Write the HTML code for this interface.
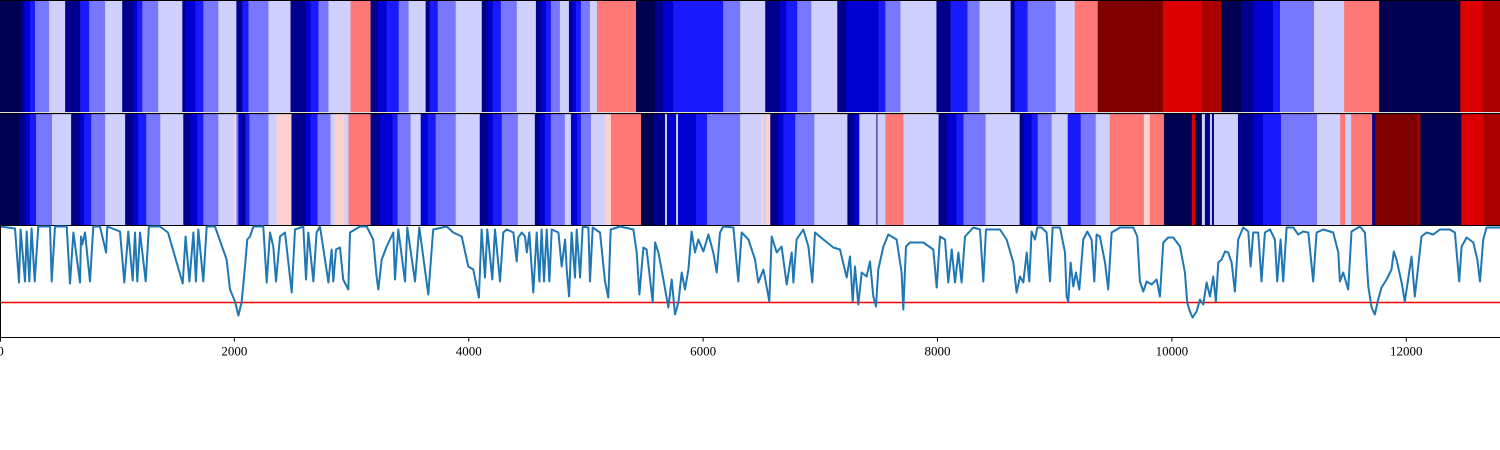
<!DOCTYPE html>
<html><head><meta charset="utf-8"><style>
html,body{margin:0;padding:0;background:#fff;}
svg{display:block;}
text{font-family:"Liberation Serif",serif;font-size:13px;fill:#000;}
</style></head><body>
<svg id="chart" width="1500" height="450" viewBox="0 0 1500 450" xmlns="http://www.w3.org/2000/svg">
<g id="top"></g>
<g id="mid"></g>
<g id="bot"></g>
</svg>
<script>
const xMax = 12800;
const levelColors = ["#000050","#00008c","#0000d0","#1a1aff","#7878ff","#d0d0ff","#ffd0d0","#ff7878","#dc0000","#aa0000","#7f0000"];
const topStarts = [0,179,205,256,299,419,556,684,761,897,1043,1137,1171,1214,1350,1556,1581,1667,1735,1863,2017,2068,2120,2291,2479,2607,2650,2718,2803,2991,3162,3222,3299,3402,3487,3632,3667,3735,3889,4111,4162,4205,4274,4410,4573,4615,4658,4701,4778,4855,4880,4915,4957,5034,5094,5427,5590,5658,5744,6171,6316,6530,6658,6709,6803,6923,7145,7222,7496,7555,7684,7991,8111,8256,8359,8624,8658,8769,9009,9171,9367,9923,10256,10419,10590,10701,10863,10923,11213,11470,11769,12461,12650];
const topLevels = [0,1,2,3,4,5,1,3,4,5,1,2,3,4,5,1,2,3,4,5,1,3,4,5,1,2,3,4,5,7,1,2,3,4,5,1,3,4,5,1,2,3,4,5,1,2,3,4,5,1,2,3,4,5,7,0,1,2,3,4,5,1,2,3,4,5,1,2,3,4,5,1,3,4,5,1,3,4,5,7,10,8,9,0,1,2,3,4,5,7,0,8,9];
const midStarts = [0,162,222,256,308,444,607,684,718,778,897,1068,1137,1179,1248,1368,1564,1624,1684,1735,1863,2000,2017,2034,2060,2094,2128,2291,2359,2487,2607,2650,2709,2820,2855,2940,2974,3162,3239,3350,3393,3504,3590,3650,3718,3889,4094,4162,4205,4282,4419,4564,4607,4650,4701,4820,4872,4923,4957,5043,5162,5214,5470,5581,5675,5692,5701,5769,5786,5940,6034,6316,6496,6513,6538,6573,6641,6684,6786,6949,7231,7290,7333,7479,7487,7555,7709,8009,8085,8162,8222,8410,8701,8735,8803,8855,8974,9111,9222,9350,9470,9761,9812,9932,10171,10197,10256,10282,10325,10342,10359,10564,10701,10778,10931,11239,11436,11479,11530,11709,11735,12094,12120,12470,12658];
const midLevels = [0,1,2,3,4,5,1,2,3,4,5,1,2,3,4,5,1,2,3,4,5,6,4,2,1,3,4,5,6,1,2,3,4,5,6,5,7,1,2,3,4,5,2,3,4,5,1,2,3,4,5,1,2,3,4,5,2,3,4,5,6,7,0,1,5,1,2,5,2,3,4,5,6,5,6,1,2,3,4,5,1,2,5,1,5,7,5,1,2,3,4,5,1,2,3,4,5,3,4,5,7,6,7,0,8,0,5,1,5,1,5,1,2,3,4,5,7,5,7,1,10,9,0,8,9];

const lineXa = [0,128,162,176,213,228,250,270,296,327,427,441,469,569,597,626,683,691,702,725,768,796,853,905,916,1024,1061,1095,1132,1152,1172,1195,1243,1271,1365,1434,1559,1584,1616,1650,1672,1692,1735,1764,1835,1934,1963,2005,2034,2062,2091,2110,2133,2162,2247,2276,2304,2332,2355,2389,2432,2489,2517,2588,2611,2631,2674,2702,2731,2802,2830,2844,2867,2901,2929,2972,2987,3072,3129,3185,3214,3228,3257,3300,3356,3371,3399,3456,3476,3541,3578,3655,3697,3812,3868,3940,3996,4039,4087,4110,4139,4158,4201,4224];
const lineYa = [111,109,55,108,56,106,56,109,56,111,111,56,111,111,54,105,55,101,93,105,56,111,111,85,111,106,55,106,57,105,56,105,56,111,111,105,54,101,56,105,56,108,56,111,111,78,48,36,22,35,71,98,101,111,111,55,105,91,56,101,105,45,108,111,58,105,56,105,111,55,88,56,88,90,58,48,105,111,111,98,61,48,78,91,105,58,108,56,110,56,110,43,108,111,105,101,71,68,40,108,60,108,58,108];
const lineXb = [4267,4295,4324,4381,4409,4423,4452,4480,4495,4517,4551,4580,4603,4622,4642,4665,4688,4708,4765,4793,4822,4836,4856,4878,4907,4921,4950,4972,5021,5035,5058,5120,5163,5191,5211,5291,5405,5433,5456,5490,5518,5541,5570,5590,5618,5661,5703,5732,5760,5789,5817,5845,5874,5902,5931,5959,6002,6045,6087,6116,6144,6172,6258,6300,6329,6386,6443,6471,6514,6542,6565,6585,6628,6670,6713,6756,6770,6798,6855,6898,6932,6955,7026,7111,7168,7225,7253,7276,7296,7324,7353,7395,7424,7452,7475,7495,7538,7580,7651,7694,7708,7731,7765,7879,7964,7993,8021,8064,8092,8121,8149,8178,8206,8235,8306,8363,8391,8414,8477];
const lineYb = [56,105,108,105,76,100,105,101,85,105,45,105,56,108,56,108,56,108,105,71,98,68,41,105,60,108,60,111,110,56,110,105,56,40,108,111,108,85,43,90,88,65,35,95,85,58,30,58,23,35,65,48,68,106,85,98,86,103,85,65,105,111,110,56,105,98,78,55,68,51,36,101,85,91,53,85,55,98,108,91,55,105,98,90,88,60,81,36,71,33,65,61,76,41,31,68,91,103,98,65,28,91,95,95,88,50,101,98,55,88,55,85,55,101,110,108,56,108,108];
const lineXc = [8533,8590,8647,8675,8704,8732,8761,8783,8803,8832,8852,8889,8931,8960,8982,9045,9088,9102,9116,9136,9159,9181,9210,9244,9278,9315,9338,9358,9386,9429,9457,9486,9557,9671,9705,9727,9756,9784,9827,9870,9898,9927,9969,10012,10069,10111,10131,10154,10177,10211,10239,10268,10296,10325,10353,10376,10396,10424,10453,10481,10510,10538,10566,10609,10652,10672,10694,10737,10765,10794,10837,10879,10899,10928,10950,10979,11036,11078,11121,11164,11206,11235,11292,11377,11420,11434,11462,11505,11533,11605,11647,11676,11704,11732,11761,11789,11832,11874,11894,11917,11960,11988,12016,12045,12073,12102,12130,12173,12230,12287,12372,12415,12452,12472,12515,12572,12606,12629,12657,12686,12800];
const lineYc = [108,98,75,45,61,55,85,56,106,98,110,110,105,56,110,110,85,41,36,75,51,65,48,98,106,98,56,103,101,75,48,105,110,110,101,56,46,56,53,58,41,95,100,100,91,65,35,26,20,26,38,33,55,41,61,36,75,78,86,85,75,46,98,110,106,71,105,105,56,105,108,98,56,98,56,110,110,103,106,105,56,105,108,105,85,56,65,48,106,111,105,51,30,23,38,50,58,68,86,78,55,36,58,81,41,71,101,105,103,108,108,105,56,91,100,95,78,56,98,110,110];
const threshold = [35];
const xTicks = [0,2000,4000,6000,8000,10000,12000];

const NS = "http://www.w3.org/2000/svg";
const W = 1500;
function sx(v){ return v * W / xMax; }
const botTop = 226, botBottom = 337.5;
function sy(v){ return botBottom - v; }
function mk(tag, attrs, parent){ const e = document.createElementNS(NS, tag); for (const k in attrs) e.setAttribute(k, attrs[k]); parent.appendChild(e); return e; }

function drawBand(g, starts, levels, y0, h, name){
  for (let i = 0; i < starts.length; i++){
    const x0 = sx(starts[i]);
    const x1 = sx(i + 1 < starts.length ? starts[i+1] : xMax);
    const r = mk('rect', {x: x0, y: y0, width: Math.max(0, x1 - x0) + 0.4, height: h, fill: levelColors[levels[i]]}, g);
    
    
  }
}
const topG = document.getElementById('top');
drawBand(topG, topStarts, topLevels, 1, 111, 'top-band');
const tl = mk('line', {x1:0, x2:W, y1:0.5, y2:0.5, stroke:'#000', 'stroke-width':1}, topG);


const midG = document.getElementById('mid');
drawBand(midG, midStarts, midLevels, 113.5, 111.5, 'middle-band');
const ml = mk('line', {x1:0, x2:W, y1:113.5, y2:113.5, stroke:'#000', 'stroke-width':1.2}, midG);


const ml2 = mk('line', {x1:0, x2:W, y1:225.5, y2:225.5, stroke:'#000', 'stroke-width':1}, midG);



const botG = document.getElementById('bot');
const th = mk('line', {x1:0, x2:W, y1:sy(threshold[0]), y2:sy(threshold[0]), stroke:'#ff0000', 'stroke-width':1.6}, botG);


const lineX = lineXa.concat(lineXb, lineXc);
const lineY = lineYa.concat(lineYb, lineYc);
let d = '';
const n = Math.min(lineX.length, lineY.length);
for (let i = 0; i < n; i++) d += (i ? 'L' : 'M') + sx(lineX[i]).toFixed(1) + ' ' + sy(lineY[i]).toFixed(1);
const p = mk('path', {d: d, fill:'none', stroke:'#1f77b4', 'stroke-width':2, 'stroke-linejoin':'round'}, botG);


const ax = mk('line', {x1:0, x2:W, y1:botBottom, y2:botBottom, stroke:'#000', 'stroke-width':1}, botG);


const ay = mk('line', {x1:0.5, x2:0.5, y1:botTop, y2:botBottom, stroke:'#000', 'stroke-width':1}, botG);


for (const t of xTicks){
  const x = Math.max(0.5, sx(t));
  const tk = mk('line', {x1:x, x2:x, y1:botBottom, y2:botBottom + 4, stroke:'#000', 'stroke-width':1}, botG);
  
  
  const tx = mk('text', {x:x, y:botBottom + 18, 'text-anchor':'middle'}, botG);
  tx.textContent = String(t);
  
  
}
</script>
</body></html>
